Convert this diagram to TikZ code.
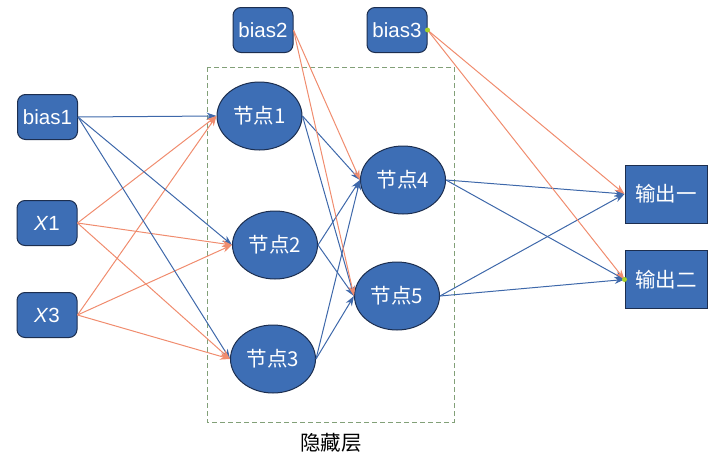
\documentclass[tikz,border=0pt]{standalone}
\usepackage{fontspec}
\setmainfont{Liberation Sans}
\newfontfamily\cjk{Noto Sans CJK SC}
\usetikzlibrary{shapes.geometric,arrows.meta}
\definecolor{nodefill}{RGB}{61,110,181}
\definecolor{nodeline}{RGB}{28,46,79}
\definecolor{bluel}{RGB}{62,104,170}
\definecolor{orangel}{RGB}{240,140,110}
\definecolor{dashc}{RGB}{130,160,120}
\definecolor{dotc}{RGB}{170,210,40}
\begin{document}
\begin{tikzpicture}[x=1pt,y=-1pt,font=\fontsize{20.5}{23}\selectfont,
  inbox/.style={draw=nodeline,fill=nodefill,rounded corners=8pt,minimum width=60pt,minimum height=45pt,inner sep=0pt,text=white,line width=1pt},
  hid/.style={ellipse,draw=nodeline,fill=nodefill,minimum width=85pt,minimum height=68pt,inner sep=0pt,text=white,line width=1pt},
  outbox/.style={draw=nodeline,fill=nodefill,minimum width=82pt,minimum height=58pt,inner sep=0pt,text=white,line width=1pt},
  bl/.style={draw=bluel,line width=1pt,-{Stealth[length=10pt,width=7pt]}},
  orl/.style={draw=orangel,line width=1pt,-{Stealth[length=10pt,width=7pt]}},
  gdot/.style={circle,fill=dotc,inner sep=0pt,minimum size=5pt}]
\useasboundingbox (0,0) rectangle (716,461);
\draw[dashc,line width=0.8pt,dash pattern=on 5pt off 3pt] (207,67) rectangle (454,422);
\node[font=\fontsize{20.5}{23}\selectfont\cjk] (lab) at (331,443) {隐藏层};
% nodes
\node[inbox] (b1) at (47.5,117) {bias1};
\node[inbox] (x1) at (47,223) {\textit{X}1};
\node[inbox] (x3) at (47,315) {\textit{X}3};
\node[inbox] (b2) at (263,30) {bias2};
\node[inbox] (b3) at (397,30) {bias3};
\node[hid] (h1) at (259.5,116) {\cjk 节点1};
\node[hid] (h2) at (275,245) {\cjk 节点2};
\node[hid] (h3) at (273,359) {\cjk 节点3};
\node[hid] (h4) at (403,180) {\cjk 节点4};
\node[hid] (h5) at (397,296) {\cjk 节点5};
\node[outbox] (o1) at (666,194) {\cjk 输出一};
\node[outbox] (o2) at (666,279.5) {\cjk 输出二};
% input layer edges
\foreach \t in {h1,h2,h3} {
  \draw[bl] (b1.east) -- (\t.west);
  \draw[orl] (x1.east) -- (\t.west);
  \draw[orl] (x3.east) -- (\t.west);
}
% hidden to hidden
\foreach \s in {h1,h2,h3} {
  \draw[bl] (\s.east) -- (h4.west);
  \draw[bl] (\s.east) -- (h5.west);
}
\draw[orl] (b2.east) -- (h4.west);
\draw[orl] (b2.east) -- (h5.west);
% output edges
\foreach \s in {h4,h5} {
  \draw[bl] (\s.east) -- (o1.west);
  \draw[bl] (\s.east) -- (o2.west);
}
\draw[orl] (b3.east) -- (o1.west);
\draw[orl] (b3.east) -- (o2.west);
\node[gdot] (d1) at (b3.east) {};
\node[gdot] (d2) at (o2.west) {};
\end{tikzpicture}
\end{document}
